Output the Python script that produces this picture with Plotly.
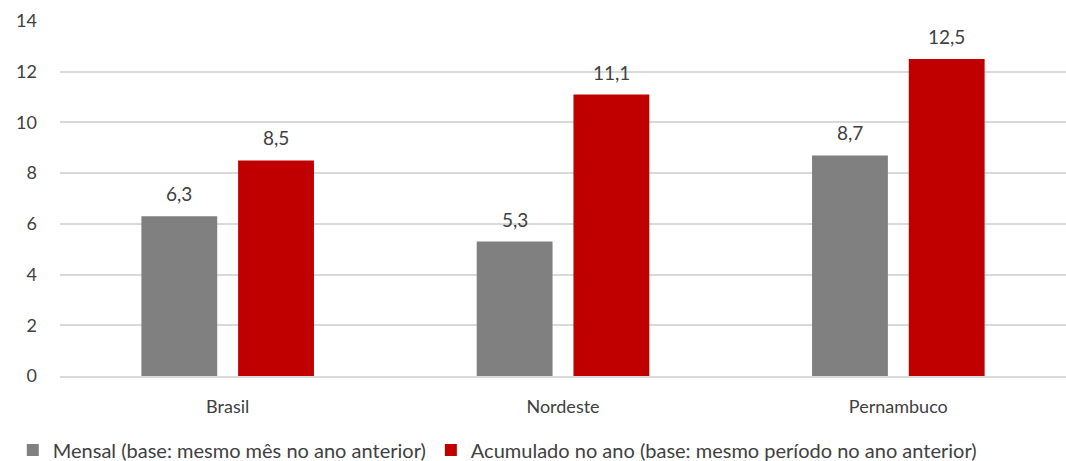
import plotly.graph_objects as go

categories = ["Brasil", "Nordeste", "Pernambuco"]
mensal = [6.3, 5.3, 8.7]
acumulado = [8.5, 11.1, 12.5]
y_ticks = [0, 2, 4, 6, 8, 10, 12, 14]

FONT = "Lato"
TEXT_COLOR = "#404040"
BARGAP = 0.423
GROUPGAP = 0.216

fig = go.Figure()
series = [
    ("Mensal (base: mesmo mês no ano anterior)", mensal, "#808080"),
    ("Acumulado no ano (base: mesmo período no ano anterior)", acumulado, "#C00000"),
]
for name, vals, color in series:
    fig.add_trace(go.Bar(
        x=categories, y=vals, name=name,
        marker=dict(color=color, line=dict(width=0)),
    ))

# value labels above each bar, offset to the centre of its slot in the group
slot = (1 - BARGAP) / len(series)
for i, (_, vals, _) in enumerate(series):
    dx = (i - (len(series) - 1) / 2) * slot
    for j, v in enumerate(vals):
        fig.add_annotation(
            x=j + dx, y=v, xref="x", yref="y",
            text=f"{v:.1f}".replace(".", ","),
            showarrow=False, yanchor="bottom", yshift=9,
            font=dict(size=19, color=TEXT_COLOR, family=FONT),
        )

fig.update_layout(
    width=1066, height=461,
    margin=dict(l=60, r=0, t=21, b=85, autoexpand=False),
    paper_bgcolor="white", plot_bgcolor="white",
    separators=",.",
    barmode="group", bargap=BARGAP, bargroupgap=GROUPGAP,
    font=dict(family=FONT, size=18, color=TEXT_COLOR),
    showlegend=True,
    legend=dict(
        orientation="h", x=0.012, xref="container", xanchor="left",
        y=0.024, yref="container", yanchor="middle",
        font=dict(size=20, color=TEXT_COLOR, family=FONT),
        itemwidth=30, tracegroupgap=0,
    ),
    yaxis=dict(
        range=[0, 14], tickvals=y_ticks, showgrid=True, gridcolor="#d9d9d9",
        gridwidth=1.5, zeroline=False, showline=False, ticks="",
        ticklabelstandoff=22, tickfont=dict(size=18),
    ),
    xaxis=dict(
        showline=True, linecolor="#d9d9d9", linewidth=1.5, ticks="",
        tickfont=dict(size=18), ticklabelstandoff=14,
    ),
)

fig.write_html("out.html")
